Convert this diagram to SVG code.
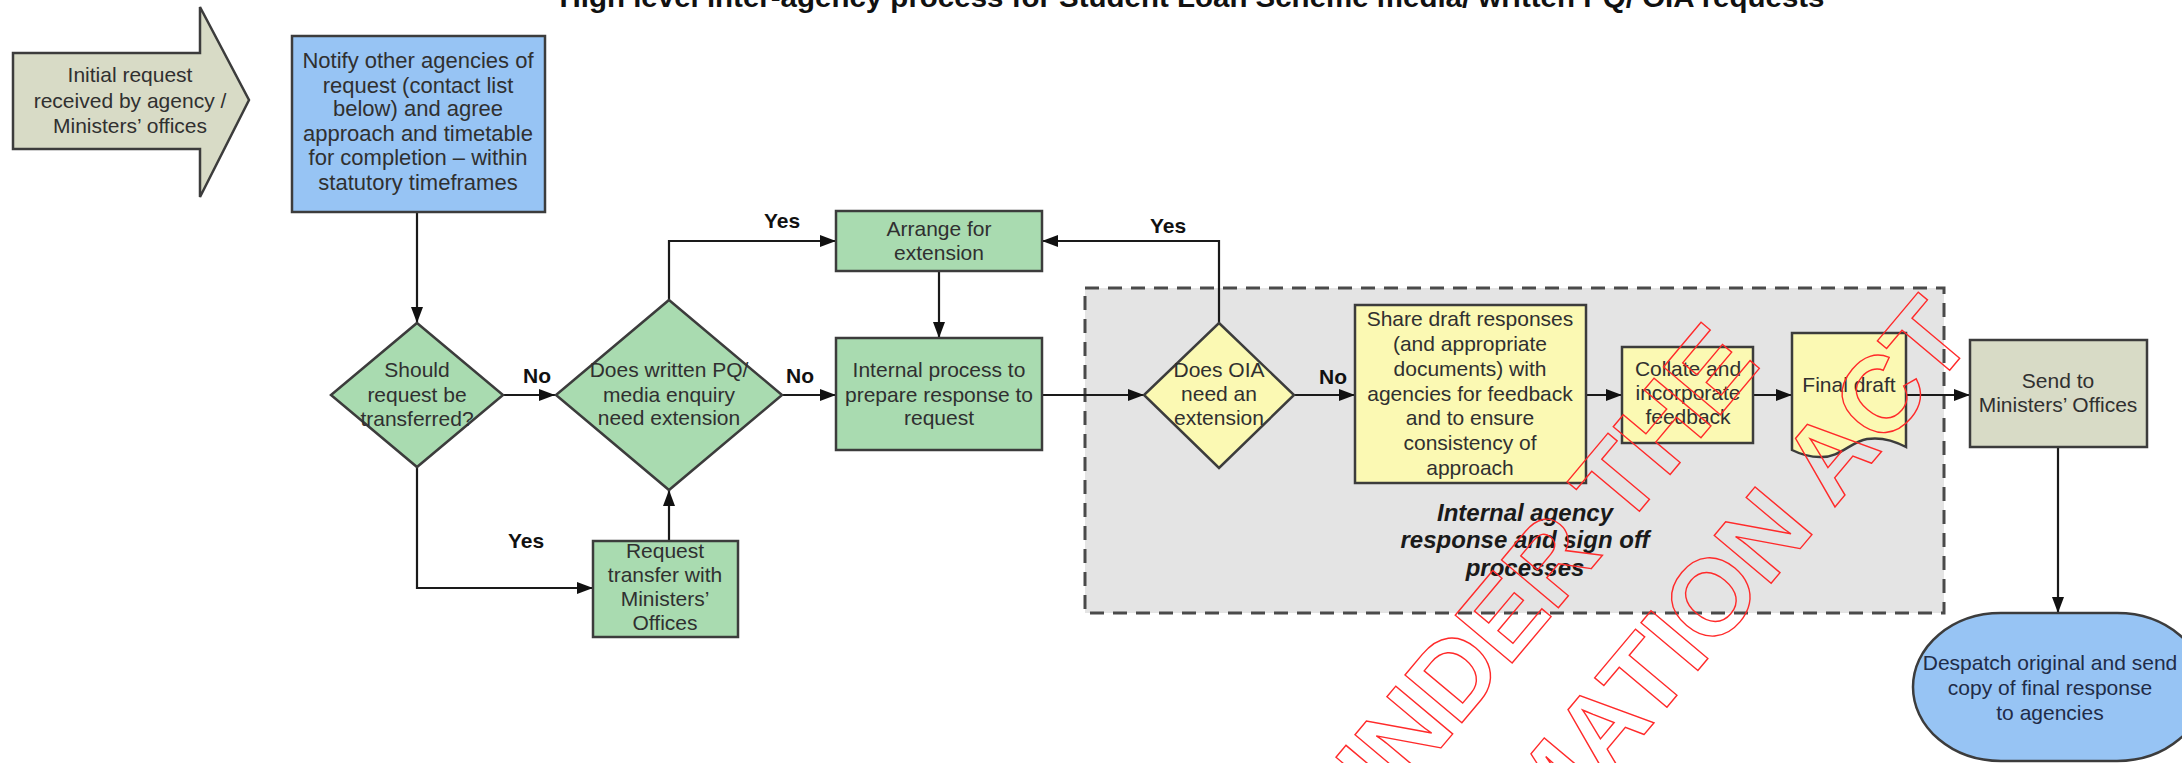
<svg xmlns="http://www.w3.org/2000/svg" width="2182" height="763" viewBox="0 0 2182 763">
<style>
.t{font-family:"Liberation Sans",Arial,sans-serif;font-size:21px;fill:#303030;text-anchor:middle}
.lbl{font-family:"Liberation Sans",Arial,sans-serif;font-size:21px;font-weight:bold;fill:#111;text-anchor:middle}
.box{stroke:#3c3c3c;stroke-width:2.5}
.green{fill:#a9dbb0}
.yellow{fill:#fbf9b3}
.blue{fill:#97c4f4}
.khaki{fill:#d8dbc6}
.conn{fill:none;stroke:#1a1a1a;stroke-width:2.2}
.wm{font-family:"Liberation Sans",Arial,sans-serif;font-size:108px;font-weight:bold;fill:none;stroke:#ff2a2a;stroke-width:1.4}
</style>
<defs>
<marker id="ah" markerUnits="userSpaceOnUse" viewBox="0 0 16 12" refX="16" refY="6" markerWidth="16" markerHeight="12" orient="auto">
<path d="M0,0 L16,6 L0,12 z" fill="#111"/>
</marker>
</defs>
<rect width="2182" height="763" fill="#ffffff"/>

<text x="1192" y="7" font-family="Liberation Sans,Arial,sans-serif" font-size="28" font-weight="bold" fill="#111" text-anchor="middle" textLength="1265" lengthAdjust="spacingAndGlyphs">High level inter-agency process for Student Loan Scheme media/ written PQ/ OIA requests</text>

<g id="region">
<rect x="1085" y="288" width="859" height="325" fill="#e4e4e4" stroke="#4a4a4a" stroke-width="3" stroke-dasharray="14 9"/>
<text font-family="Liberation Sans,Arial,sans-serif" font-size="24" font-weight="bold" font-style="italic" fill="#1a1a1a" text-anchor="middle"><tspan x="1525" y="521">Internal agency</tspan><tspan x="1525" y="548">response and sign off</tspan><tspan x="1525" y="576">processes</tspan></text>
</g>

<g id="connectors">
<path class="conn" d="M417,212 V323" marker-end="url(#ah)"/>
<path class="conn" d="M504,395 H555" marker-end="url(#ah)"/>
<path class="conn" d="M782,395 H836" marker-end="url(#ah)"/>
<path class="conn" d="M669,300 V241 H836" marker-end="url(#ah)"/>
<path class="conn" d="M939,271 V338" marker-end="url(#ah)"/>
<path class="conn" d="M417,467 V588 H593" marker-end="url(#ah)"/>
<path class="conn" d="M669,541 V490" marker-end="url(#ah)"/>
<path class="conn" d="M1042,395 H1144" marker-end="url(#ah)"/>
<path class="conn" d="M1219,323 V241 H1042" marker-end="url(#ah)"/>
<path class="conn" d="M1294,395 H1355" marker-end="url(#ah)"/>
<path class="conn" d="M1586,395 H1622" marker-end="url(#ah)"/>
<path class="conn" d="M1753,395 H1792" marker-end="url(#ah)"/>
<path class="conn" d="M1906,395 H1970" marker-end="url(#ah)"/>
<path class="conn" d="M2058,447 V613" marker-end="url(#ah)"/>
<text class="lbl" x="537" y="383">No</text>
<text class="lbl" x="800" y="383">No</text>
<text class="lbl" x="782" y="228">Yes</text>
<text class="lbl" x="526" y="548">Yes</text>
<text class="lbl" x="1168" y="233">Yes</text>
<text class="lbl" x="1333" y="384">No</text>
</g>

<g id="initial">
<path class="box khaki" d="M13,53 H200 V7 L249,100 L200,197 V149 H13 Z"/>
<text class="t"><tspan x="130" y="82">Initial request</tspan><tspan x="130" y="108">received by agency /</tspan><tspan x="130" y="133">Ministers’ offices</tspan></text>
</g>

<g id="notify">
<rect class="box blue" x="292" y="36" width="253" height="176"/>
<text class="t" style="font-size:22px"><tspan x="418" y="68">Notify other agencies of</tspan><tspan x="418" y="93">request (contact list</tspan><tspan x="418" y="116">below) and agree</tspan><tspan x="418" y="141">approach and timetable</tspan><tspan x="418" y="165">for completion – within</tspan><tspan x="418" y="190">statutory timeframes</tspan></text>
</g>

<g id="transfer-decision">
<path class="box green" d="M417,323 L503,395 L417,467 L331,395 Z"/>
<text class="t"><tspan x="417" y="377">Should</tspan><tspan x="417" y="402">request be</tspan><tspan x="417" y="426">transferred?</tspan></text>
</g>

<g id="extension-decision">
<path class="box green" d="M669,300 L782,395 L669,490 L556,395 Z"/>
<text class="t"><tspan x="669" y="377">Does written PQ/</tspan><tspan x="669" y="402">media enquiry</tspan><tspan x="669" y="425">need extension</tspan></text>
</g>

<g id="arrange">
<rect class="box green" x="836" y="211" width="206" height="60"/>
<text class="t"><tspan x="939" y="236">Arrange for</tspan><tspan x="939" y="260">extension</tspan></text>
</g>

<g id="internal">
<rect class="box green" x="836" y="338" width="206" height="112"/>
<text class="t"><tspan x="939" y="377">Internal process to</tspan><tspan x="939" y="402">prepare response to</tspan><tspan x="939" y="425">request</tspan></text>
</g>

<g id="request-transfer">
<rect class="box green" x="593" y="541" width="145" height="96"/>
<text class="t"><tspan x="665" y="558">Request</tspan><tspan x="665" y="582">transfer with</tspan><tspan x="665" y="606">Ministers’</tspan><tspan x="665" y="630">Offices</tspan></text>
</g>

<g id="oia-decision">
<path class="box yellow" d="M1219,323 L1294,395 L1219,468 L1144,395 Z"/>
<text class="t"><tspan x="1219" y="377">Does OIA</tspan><tspan x="1219" y="401">need an</tspan><tspan x="1219" y="425">extension</tspan></text>
</g>

<g id="share">
<rect class="box yellow" x="1355" y="305" width="231" height="178"/>
<text class="t"><tspan x="1470" y="326">Share draft responses</tspan><tspan x="1470" y="351">(and appropriate</tspan><tspan x="1470" y="376">documents) with</tspan><tspan x="1470" y="401">agencies for feedback</tspan><tspan x="1470" y="425">and to ensure</tspan><tspan x="1470" y="450">consistency of</tspan><tspan x="1470" y="475">approach</tspan></text>
</g>

<g id="collate">
<rect class="box yellow" x="1622" y="347" width="131" height="96"/>
<text class="t"><tspan x="1688" y="376">Collate and</tspan><tspan x="1688" y="400">incorporate</tspan><tspan x="1688" y="424">feedback</tspan></text>
</g>

<g id="final-draft">
<path class="box yellow" d="M1792,333 H1906 V447 C1893,440 1880,437 1867,439 C1850,442 1840,458 1820,457 C1808,457 1798,453 1792,450 Z"/>
<text class="t" x="1849" y="392">Final draft</text>
</g>

<g id="send">
<rect class="box khaki" x="1970" y="340" width="177" height="107"/>
<text class="t"><tspan x="2058" y="388">Send to</tspan><tspan x="2058" y="412">Ministers’ Offices</tspan></text>
</g>

<g id="despatch">
<rect class="box blue" x="1913" y="613" width="292" height="148" rx="88" ry="74"/>
<text class="t" style="fill:#1f2c48"><tspan x="2050" y="670">Despatch original and send</tspan><tspan x="2050" y="695">copy of final response</tspan><tspan x="2050" y="720">to agencies</tspan></text>
</g>

<g id="watermark">
<text class="wm" x="1762" y="365" text-anchor="end" transform="rotate(-50 1762 365)">UNDER THE</text>
<text class="wm" x="1976" y="339" text-anchor="end" transform="rotate(-50 1976 339)">INFORMATION ACT</text>
</g>
</svg>
